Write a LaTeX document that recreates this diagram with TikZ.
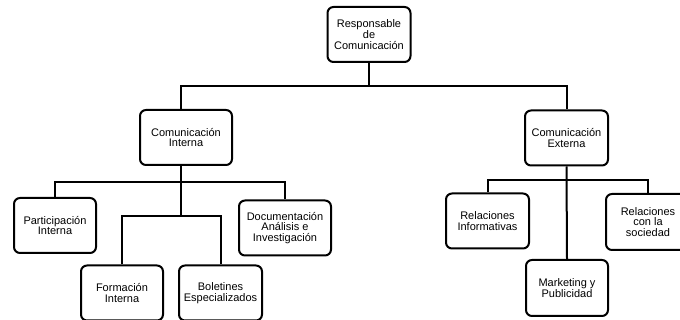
\documentclass[tikz,border=0pt]{standalone}
\usepackage{fontspec}
\setmainfont{Liberation Sans}
\begin{document}
\begin{tikzpicture}[x=1pt,y=-1pt,
    cargo/.style ={rectangle, draw, line width=2pt, rounded corners=6pt, align=center,
      minimum width=83pt, minimum height=55pt, inner sep=1pt, font=\fontsize{11}{10.8}\selectfont},
    enlace/.style={line width=2pt}]
   \useasboundingbox (0,0) rectangle (680,320);
   \node[cargo] (resp) at (369,34.5) {Responsable\\de\\Comunicación};
   \node[cargo, minimum width=92pt] (cint) at (186,137.5) {Comunicación\\Interna};
   \node[cargo] (cext) at (566.5,138) {Comunicación\\Externa};
   \node[cargo, minimum width=82pt] (part) at (55,225.5) {Participación\\Interna};
   \node[cargo, minimum width=92pt] (docu) at (285,228) {Documentación\\Análisis e\\Investigación};
   \node[cargo, minimum width=82pt] (form) at (122,293) {Formación\\Interna};
   \node[cargo] (bole) at (220.5,293) {Boletines\\Especializados};
   \node[cargo] (rinf) at (487.5,221) {Relaciones\\Informativas};
   \node[cargo, minimum width=84pt, minimum height=56pt] (rsoc) at (648,222) {Relaciones\\con la\\sociedad};
   \node[cargo, minimum width=82pt, minimum height=56pt] (mark) at (567,288) {Marketing y\\Publicidad};

   \coordinate (bus0) at (0,86);
   \coordinate (bus1) at (0,182);
   \coordinate (bus2) at (0,216);
   \coordinate (bus3) at (0,180);
   \coordinate (tronco) at (181,0);

   \draw[enlace] (resp.south) -- (resp.south |- bus0);
   \draw[enlace] (tronco |- cint.north) |- (resp.south |- bus0) -| (cext.north);

   \draw[enlace] (tronco |- cint.south) -- (tronco |- bus2);
   \draw[enlace] (part.north) |- (tronco |- bus1) -| (docu.north);
   \draw[enlace] (form.north) |- (tronco |- bus2) -| (bole.north);

   \draw[enlace] (cext.south) -- (mark.north);
   \draw[enlace] (rinf.north) |- (cext.south |- bus3) -| (rsoc.north);
 \end{tikzpicture}
\end{document}
